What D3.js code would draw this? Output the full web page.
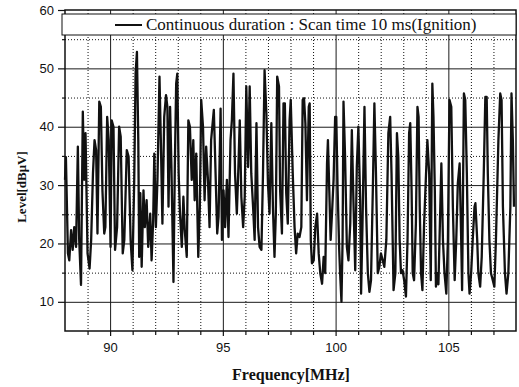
<!DOCTYPE html>
<html>
<head>
<meta charset="utf-8">
<script src="https://cdn.jsdelivr.net/npm/d3@7"></script>
<style>
  body { margin: 0; background: #fff; }
  svg { display: block; }
</style>
</head>
<body>
<div id="chart"></div>
<script>
// Emission spectrum, continuous duration scan

const freqMHz = [
  88.0, 88.04, 88.13, 88.19, 88.27, 88.34, 88.41, 88.49, 88.57, 88.63,
  88.71, 88.79, 88.85, 88.91, 89.0, 89.09, 89.16, 89.24, 89.31, 89.38,
  89.44, 89.52, 89.59, 89.66, 89.74, 89.79, 89.87, 89.94, 90.02, 90.07,
  90.15, 90.22, 90.31, 90.4, 90.47, 90.56, 90.63, 90.74, 90.82, 90.91,
  90.99, 91.07, 91.13, 91.19, 91.25,
  91.29, 91.34, 91.4, 91.48, 91.54, 91.62, 91.69, 91.78, 91.84, 91.91,
  91.96, 92.03, 92.1, 92.19, 92.25, 92.32, 92.4, 92.48, 92.54, 92.59,
  92.66, 92.72, 92.81, 92.87, 92.93, 92.98, 93.04, 93.1, 93.18, 93.25,
  93.31, 93.4, 93.47, 93.54, 93.62, 93.69, 93.75, 93.82, 93.91, 93.98,
  94.04, 94.12, 94.19, 94.26, 94.34, 94.41, 94.48, 94.6,
  94.75, 94.81, 94.9, 94.96, 95.03, 95.1, 95.18, 95.25, 95.34, 95.4,
  95.47, 95.54, 95.62, 95.69, 95.75, 95.82, 95.9, 95.97, 96.04, 96.12,
  96.19, 96.26, 96.34, 96.41, 96.49, 96.56, 96.63, 96.71, 96.78, 96.85,
  96.93, 97.0, 97.07, 97.15, 97.22, 97.29, 97.35, 97.41, 97.49, 97.54,
  97.62, 97.69, 97.75, 97.81, 97.88, 97.96,
  98.01, 98.1, 98.18, 98.25, 98.32, 98.4, 98.48, 98.54, 98.6, 98.66,
  98.73, 98.81, 98.85, 98.9, 98.95, 99.03, 99.1, 99.18, 99.25, 99.32,
  99.4, 99.47, 99.54, 99.62, 99.66, 99.72, 99.78, 99.84, 99.91, 99.98,
  100.03, 100.09, 100.16, 100.2, 100.26, 100.31, 100.35, 100.42, 100.5, 100.57,
  100.65, 100.72, 100.79, 100.87, 100.94, 101.01, 101.09, 101.13, 101.19, 101.28,
  101.35, 101.43, 101.5, 101.57, 101.65, 101.72, 101.79, 101.87, 101.94, 102.01,
  102.09, 102.16, 102.25, 102.34, 102.42, 102.48, 102.57, 102.65, 102.72, 102.78,
  102.84, 102.9, 102.97, 103.04, 103.12, 103.19, 103.26, 103.31, 103.37, 103.42,
  103.48, 103.56, 103.63, 103.68, 103.73, 103.79, 103.85, 103.92, 104.0, 104.07,
  104.15, 104.22, 104.29, 104.34, 104.4, 104.45, 104.51, 104.56,
  104.69, 104.76, 104.83, 104.91, 104.98, 105.05, 105.13, 105.2, 105.28, 105.35,
  105.42, 105.5, 105.57, 105.61, 105.69, 105.75, 105.82, 105.89, 105.94, 106.01,
  106.08, 106.16, 106.2, 106.28, 106.33, 106.41, 106.48, 106.57, 106.64, 106.7,
  106.75, 106.82, 106.89, 106.97, 107.04, 107.11, 107.22, 107.3, 107.36, 107.42,
  107.51, 107.58, 107.66, 107.75, 107.8, 107.86, 107.91
];

const levelDbuV = [
  30.9, 34.8, 18.3, 17.1, 22.3, 18.9, 22.8, 19.4, 36.6, 20.6,
  12.9, 42.6, 30.9, 38.9, 18.3, 15.7, 20.6, 32, 37.7, 36,
  21.7, 44.3, 43.4, 29.1, 21.7, 22.8, 41.7, 37.7, 19.4, 41.1,
  40, 18.9, 22.8, 40, 38.3, 18.3, 20.6, 36, 34.9, 20.6,
  15.4, 30.9, 49.1, 52.8, 37.7,
  17.7, 28.6, 16, 29.1, 22.8, 27.4, 19.4, 25.1, 17.1, 24,
  35.4, 22.8, 30.9, 48.6, 37.7, 23.4, 41.7, 45.4, 43.4, 26.3,
  43.4, 33.1, 13.4, 33.1, 47.4, 49.1, 32, 25.1, 19.4, 28,
  22.3, 17.7, 41.1, 40, 30.9, 37.7, 27.4, 35.4, 17.7, 26.3,
  44.6, 40, 27.4, 36.6, 30.9, 22.8, 37.7, 42.9,
  21.7, 24.6, 43.1, 20.6, 29.1, 22.8, 30.9, 21.1, 37.7, 41.1,
  49.1, 32, 25.1, 33.1, 41.1, 28, 22.8, 28, 46.9, 33.1,
  46.9, 32, 26.3, 20.6, 40.6, 22.8, 19.4, 18.9, 32, 49.7,
  42.3, 30.3, 25.1, 40.6, 26.3, 17.7, 25.1, 48.6, 46.9, 29.1,
  21.7, 44, 44, 28.6, 23.4, 41.1,
  44.6, 32, 22.8, 18.3, 21.7, 21.1, 22.8, 44.6, 44.9, 40.6,
  27.4, 43.4, 44, 20.6, 16.6, 17.1, 22.8, 25.1, 18.3, 14.9,
  13.1, 17.7, 14.9, 33.7, 37.7, 29.1, 20.6, 25.1, 30.9, 41.7,
  41.7, 29.1, 18.9, 14.9, 10, 20.6, 44.3, 34.9, 19.4, 17.1,
  23.4, 39.4, 27.4, 15.4, 33.1, 40, 27.4, 11.4, 22.8, 43.4,
  26.3, 14.9, 11.7, 13.7, 29.1, 44, 32, 14.9, 16, 18.3,
  17.1, 16, 20.6, 38.9, 41.7, 32, 12, 14.9, 38.9, 34.9,
  20.6, 14.9, 15.4, 13.7, 10.9, 20.6, 38.9, 40.6, 29.1, 14.9,
  13.7, 23.4, 43.4, 41.7, 26.3, 14.9, 12, 22.8, 30.9, 37.7,
  32, 13.7, 47.4, 41.7, 29.1, 12.6, 14.9, 13,
  33.7, 20.6, 14.9, 11.4, 20.6, 44.6, 43.4, 26.3, 13.7, 20.6,
  30.3, 33.7, 20.6, 12, 45.7, 44.6, 32, 14.9, 11.4, 14.9,
  20.6, 26.3, 26.9, 20.6, 14.9, 12.6, 17.7, 32, 45.1, 45.1,
  32, 20.6, 14.9, 13.7, 12.6, 20.6, 37.7, 45.7, 44.6, 26.3,
  14.9, 11.4, 14.9, 26.3, 45.7, 37.7, 26.3
];

const xMajorTicks = [90, 95, 100, 105];
const xMinorTicks = [89, 91, 92, 93, 94, 96, 97, 98, 99, 101, 102, 103, 104, 106, 107];
const yMajorTicks = [10, 20, 30, 40, 50, 60];
const yMinorTicks = [15, 25, 35, 45, 55];

const legendLabel = 'Continuous duration : Scan time 10 ms(Ignition)';
const xTitle = 'Frequency[MHz]';
const yTitle = 'Level[dB\u03bcV]';

// Layout
const width = 519;
const height = 387;
const margin = { top: 10, right: 3, bottom: 56, left: 65 };
const innerWidth = width - margin.left - margin.right;
const innerHeight = height - margin.top - margin.bottom;

const svg = d3.select('#chart')
  .append('svg')
  .attr('width', width)
  .attr('height', height);

const g = svg.append('g')
  .attr('transform', `translate(${margin.left}, ${margin.top})`);

const x = d3.scaleLinear().domain([88, 108]).range([0, innerWidth]);
const y = d3.scaleLinear().domain([5, 60]).range([innerHeight, 0]);

// Grid: dotted minor, solid major
g.append('g')
  .attr('class', 'grid-minor')
  .call(d3.axisBottom(x).tickValues(xMinorTicks).tickSize(innerHeight).tickFormat(''))
  .call(s => s.select('.domain').remove());
g.append('g')
  .attr('class', 'grid-minor')
  .call(d3.axisLeft(y).tickValues(yMinorTicks).tickSize(-innerWidth).tickFormat(''))
  .call(s => s.select('.domain').remove());
g.selectAll('.grid-minor line')
  .attr('stroke', '#111')
  .attr('stroke-width', 1)
  .attr('stroke-dasharray', '1,2');

g.append('g')
  .attr('class', 'grid-major')
  .call(d3.axisBottom(x).tickValues(xMajorTicks).tickSize(innerHeight).tickFormat(''))
  .call(s => s.select('.domain').remove());
g.append('g')
  .attr('class', 'grid-major')
  .call(d3.axisLeft(y).tickValues(yMajorTicks.slice(0, -1)).tickSize(-innerWidth).tickFormat(''))
  .call(s => s.select('.domain').remove());
g.selectAll('.grid-major line')
  .attr('stroke', '#1a1a1a')
  .attr('stroke-width', 1);

// Trace
const points = freqMHz.map((f, i) => [f, levelDbuV[i]]);
const line = d3.line()
  .x(d => x(d[0]))
  .y(d => y(d[1]));

g.append('path')
  .datum(points)
  .attr('fill', 'none')
  .attr('stroke', '#111')
  .attr('stroke-width', 2.3)
  .attr('stroke-linejoin', 'round')
  .attr('d', line);

// Axes
const tickFont = '"Liberation Sans", Arial, sans-serif';

const xAxis = g.append('g')
  .attr('transform', `translate(0, ${innerHeight})`)
  .call(d3.axisBottom(x).tickValues(xMajorTicks).tickSize(5).tickSizeOuter(0).tickPadding(7).tickFormat(d3.format('d')));
g.append('g')
  .attr('transform', `translate(0, ${innerHeight})`)
  .call(d3.axisBottom(x).tickValues(xMinorTicks).tickSize(4).tickSizeOuter(0).tickFormat(''))
  .call(s => s.select('.domain').remove());

const yAxis = g.append('g')
  .call(d3.axisLeft(y).tickValues(yMajorTicks).tickSize(7).tickSizeOuter(0).tickPadding(4));
g.append('g')
  .call(d3.axisLeft(y).tickValues(yMinorTicks).tickSize(3).tickSizeOuter(0).tickFormat(''))
  .call(s => s.select('.domain').remove());

g.selectAll('.tick line').filter(function() {
  return !this.closest('.grid-minor') && !this.closest('.grid-major');
}).attr('stroke', '#111').attr('stroke-width', 1.2);

[xAxis, yAxis].forEach(a => {
  a.select('.domain').remove();
  a.selectAll('text')
    .style('font-family', tickFont)
    .style('font-size', '13px')
    .attr('fill', '#111');
});

// Frame
g.append('rect')
  .attr('x', 0)
  .attr('y', 0)
  .attr('width', innerWidth)
  .attr('height', innerHeight)
  .attr('fill', 'none')
  .attr('stroke', '#111')
  .attr('stroke-width', 1.5);

// Legend box
const legend = svg.append('g').attr('class', 'legend');
legend.append('rect')
  .attr('x', 62)
  .attr('y', 14)
  .attr('width', 454)
  .attr('height', 21)
  .attr('fill', '#fff')
  .attr('stroke', '#111')
  .attr('stroke-width', 1);
legend.append('line')
  .attr('x1', 115)
  .attr('x2', 142)
  .attr('y1', 25)
  .attr('y2', 25)
  .attr('stroke', '#111')
  .attr('stroke-width', 2);
legend.append('text')
  .attr('x', 146)
  .attr('y', 30)
  .style('font-family', '"Liberation Serif", "Times New Roman", serif')
  .style('font-size', '17px')
  .attr('fill', '#111')
  .text(legendLabel);

// Axis titles
svg.append('text')
  .attr('x', 291)
  .attr('y', 380)
  .attr('text-anchor', 'middle')
  .style('font-family', '"Liberation Serif", "Times New Roman", serif')
  .style('font-size', '16px')
  .style('font-weight', 'bold')
  .attr('fill', '#111')
  .text(xTitle);

svg.append('text')
  .attr('transform', 'translate(26, 187) rotate(-90)')
  .attr('text-anchor', 'middle')
  .style('font-family', '"Liberation Serif", "Times New Roman", serif')
  .style('font-size', '13px')
  .style('font-weight', 'bold')
  .attr('fill', '#111')
  .text(yTitle);
</script>
</body>
</html>
